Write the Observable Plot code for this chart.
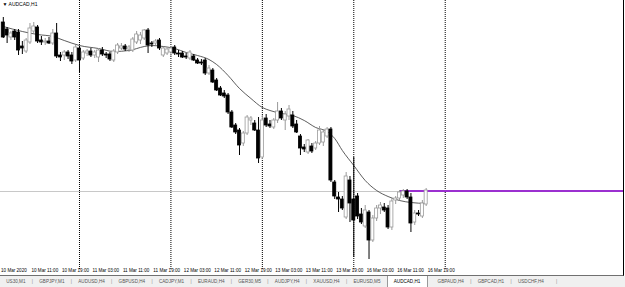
<!DOCTYPE html>
<html><head><meta charset="utf-8">
<script src="https://cdn.jsdelivr.net/npm/d3@7"></script>
<script src="https://cdn.jsdelivr.net/npm/@observablehq/plot@0.6"></script>
<style>
html,body{margin:0;padding:0;background:#fff;}
#wrap{width:625px;height:287px;overflow:hidden;position:relative;font-family:"Liberation Sans",Arial,sans-serif;}
#chart{position:absolute;left:0;top:0;width:623px;height:275px;border-right:1px solid #000;border-bottom:1px solid #707070;overflow:hidden;}
#tabs{position:absolute;left:0;top:276px;width:625px;height:11px;background:#f0f0f0;font-size:4.6px;color:#555;display:flex;align-items:center;white-space:nowrap;box-sizing:border-box;padding-left:0px;}
.tab{padding:0 6.3px;}
.sep{color:#888;}
.tab.active{background:#fff;color:#000;height:11px;line-height:11px;border-left:1px solid #999;border-right:1px solid #999;box-sizing:border-box;padding:0 7px 0 6px;margin-right:3px;}
</style></head>
<body><div id="wrap"><div id="chart"></div><div id="tabs"></div></div>
<script>
// ---- data (AUDCAD, H1), bar index 0 = 10 Mar 04:00 ----
const title = "▼ AUDCAD,H1";
const opens  = [0.8956,0.8942,0.8926,0.8938,0.8936,0.8908,0.8898,0.8916,0.8938,0.8946,0.8920,0.8916,0.8918,0.8914,0.8934,0.8890,0.8890,0.8896,0.8890,0.8880,
 0.8904,0.8884,0.8894,0.8898,0.8890,0.8886,0.8900,0.8892,0.8892,0.8880,0.8896,0.8904,0.8908,0.8902,0.8900,0.8916,0.8920,0.8924,0.8940,0.8914,0.8914,0.8920,0.8890,0.8894,
 0.8896,0.8906,0.8894,0.8894,0.8888,0.8884,0.8888,0.8880,0.8876,0.8880,0.8854,0.8860,0.8840,0.8824,0.8814,0.8810,0.8776,0.8750,0.8740,0.8714,0.8734,0.8760,0.8754,0.8740,
 0.8686,0.8764,0.8752,0.8746,0.8760,0.8778,0.8760,0.8768,0.8770,0.8752,0.8728,0.8706,0.8696,0.8708,0.8704,0.8714,0.8716,0.8728,0.8742,0.8636,0.8606,0.8602,0.8566,0.8640,
 0.8602,0.8608,0.8572,0.8548,0.8576,0.8520,0.8564,0.8584,0.8586,0.8584,0.8546,0.8600,0.8604,0.8610,0.8618,0.8606,0.8556,0.8574,0.8568,0.8592];
const highs  = [0.8966,0.8946,0.8938,0.8942,0.8942,0.8918,0.8924,0.8954,0.8956,0.8950,0.8928,0.8924,0.8926,0.8942,0.8954,0.8896,0.8900,0.8900,0.8896,0.8910,
 0.8908,0.8900,0.8902,0.8904,0.8900,0.8904,0.8906,0.8896,0.8896,0.8902,0.8914,0.8914,0.8912,0.8910,0.8926,0.8938,0.8936,0.8942,0.8944,0.8918,0.8922,0.8924,0.8906,0.8906,
 0.8908,0.8910,0.8900,0.8898,0.8894,0.8900,0.8892,0.8884,0.8882,0.8884,0.8870,0.8864,0.8844,0.8828,0.8820,0.8814,0.8780,0.8754,0.8744,0.8738,0.8770,0.8768,0.8760,0.8766,
 0.8770,0.8772,0.8760,0.8764,0.8796,0.8784,0.8778,0.8790,0.8778,0.8760,0.8732,0.8712,0.8722,0.8714,0.8718,0.8748,0.8742,0.8746,0.8746,0.8640,0.8616,0.8608,0.8656,0.8648,
 0.8686,0.8614,0.8584,0.8590,0.8580,0.8570,0.8590,0.8596,0.8594,0.8590,0.8604,0.8608,0.8620,0.8622,0.8622,0.8614,0.8580,0.8580,0.8600,0.8624];
const lows   = [0.8924,0.8914,0.8920,0.8920,0.8890,0.8892,0.8894,0.8912,0.8934,0.8914,0.8910,0.8910,0.8912,0.8910,0.8884,0.8878,0.8880,0.8882,0.8872,0.8876,
 0.8856,0.8880,0.8888,0.8886,0.8884,0.8876,0.8888,0.8884,0.8878,0.8876,0.8892,0.8900,0.8898,0.8896,0.8896,0.8912,0.8912,0.8920,0.8894,0.8906,0.8910,0.8900,0.8886,0.8890,
 0.8888,0.8890,0.8886,0.8884,0.8882,0.8880,0.8878,0.8872,0.8870,0.8850,0.8850,0.8834,0.8818,0.8808,0.8804,0.8772,0.8744,0.8732,0.8690,0.8708,0.8730,0.8750,0.8738,0.8674,
 0.8682,0.8746,0.8744,0.8742,0.8754,0.8760,0.8740,0.8760,0.8744,0.8734,0.8690,0.8696,0.8692,0.8694,0.8700,0.8710,0.8708,0.8724,0.8636,0.8602,0.8576,0.8580,0.8562,0.8556,
 0.8486,0.8562,0.8552,0.8544,0.8482,0.8516,0.8558,0.8572,0.8576,0.8542,0.8540,0.8592,0.8600,0.8604,0.8602,0.8536,0.8550,0.8568,0.8564,0.8588];
const closes = [0.8926,0.8930,0.8934,0.8926,0.8900,0.8904,0.8920,0.8944,0.8948,0.8918,0.8916,0.8918,0.8914,0.8934,0.8888,0.8886,0.8896,0.8888,0.8878,0.8906,
 0.8880,0.8896,0.8898,0.8890,0.8896,0.8900,0.8892,0.8890,0.8882,0.8898,0.8910,0.8908,0.8902,0.8906,0.8922,0.8932,0.8930,0.8940,0.8910,0.8912,0.8918,0.8904,0.8904,0.8902,
 0.8904,0.8894,0.8892,0.8886,0.8886,0.8896,0.8880,0.8874,0.8874,0.8854,0.8864,0.8836,0.8820,0.8810,0.8808,0.8776,0.8746,0.8736,0.8710,0.8734,0.8766,0.8764,0.8740,0.8684,
 0.8760,0.8750,0.8748,0.8760,0.8778,0.8764,0.8772,0.8782,0.8748,0.8736,0.8704,0.8702,0.8720,0.8698,0.8714,0.8740,0.8736,0.8742,0.8640,0.8608,0.8602,0.8584,0.8648,0.8594,
 0.8560,0.8568,0.8556,0.8580,0.8520,0.8564,0.8584,0.8590,0.8580,0.8546,0.8598,0.8604,0.8616,0.8618,0.8606,0.8554,0.8574,0.8572,0.8594,0.8620];
// moving average read at selected bars
const maBars   = [0,5,9,13,16,20,25,29,33,37,39,42,45,48,51,54,56,59,62,65,68,70,73,76,79,82,85,87,89,92,95,98,101,104,107,111];
const maValues = [0.8948,0.8938,0.8932,0.8928,0.8920,0.8910,0.8904,0.8898,0.8900,0.8908,0.8910,0.8908,0.8904,0.8896,0.8890,0.8882,0.8872,0.8850,0.8824,0.8804,
 0.8786,0.8780,0.8774,0.8770,0.8760,0.8746,0.8738,0.8724,0.8700,0.8670,0.8640,0.8620,0.8608,0.8600,0.8596,0.8594];
// day separators (bar index of 00:00)
const separators = [20,44,68,92,116];
const bidPrice = 0.8618;
const hLineLevel = 0.8619, hLineFrom = 104;
const tickBars   = [-1,7,15,23,31,39,47,55,63,71,79,87,95,103,111];
const tickLabels = ["10 Mar 2020","10 Mar 11:00","10 Mar 19:00","11 Mar 03:00","11 Mar 11:00","11 Mar 19:00","12 Mar 03:00","12 Mar 11:00","12 Mar 19:00","13 Mar 03:00","13 Mar 11:00","13 Mar 19:00","16 Mar 03:00","16 Mar 11:00","16 Mar 19:00"];
const tabs = ["US30,M1","GBPJPY,M1","AUDUSD,H4","GBPUSD,H4","CADJPY,M1","EURAUD,H4","GER30,M5","AUDJPY,H4","XAUUSD,H4","EURUSD,M5","AUDCAD,H1","GBPAUD,H4","GBPCAD,H1","USDCHF,H4"];
const activeTab = "AUDCAD,H1";

// ---- build ----
const bars = opens.map((o, i) => ({i, o, h: highs[i], l: lows[i], c: closes[i]}));
const isUp = d => d.c >= d.o;
const ma = maBars.map((b, k) => ({i: b, v: maValues[k]}));
const xDomain = [-0.735, 162.8];
const yDomain = [0.846, 0.9];
const ticks = tickBars.map((b, k) => ({b, label: tickLabels[k]}));

const chart = Plot.plot({
  width: 623, height: 275,
  marginTop: 0, marginLeft: 0, marginRight: 0, marginBottom: 5,
  x: {domain: xDomain, axis: null},
  y: {domain: yDomain, axis: null},
  style: {fontFamily: "Liberation Sans, Arial, sans-serif", fontSize: "4.6px", background: "transparent", color: "#000", overflow: "visible"},
  marks: [
    Plot.ruleX(separators, {stroke: "#000", strokeWidth: 1, strokeDasharray: "1,1"}),
    Plot.ruleY([bidPrice], {stroke: "#c8c8c8", strokeWidth: 1}),
    Plot.ruleY([hLineLevel], {x1: hLineFrom, x2: xDomain[1], stroke: "#9b30d0", strokeWidth: 2}),
    Plot.line(ma, {x: "i", y: "v", stroke: "#333", strokeWidth: 0.8, curve: "monotone-x"}),
    Plot.ruleX(bars, {x: "i", y1: "l", y2: "h", stroke: d => isUp(d) ? "#9a9a9a" : "#000", strokeWidth: 1}),
    Plot.rectY(bars, {x1: d => d.i - 0.4, x2: d => d.i + 0.4, y1: "o", y2: "c",
      fill: d => isUp(d) ? "#fff" : "#000", stroke: d => isUp(d) ? "#9a9a9a" : "#000", strokeWidth: 0.8}),
    Plot.text(ticks, {x: "b", text: "label", frameAnchor: "bottom", textAnchor: "start", lineAnchor: "middle", dx: 1.5, dy: 0, fontSize: 4.6, fill: "#000"}),
    Plot.text([title], {frameAnchor: "top-left", dx: 2, dy: 1.5, fontSize: 5, textAnchor: "start", lineAnchor: "top"})
  ]
});
document.getElementById("chart").appendChild(chart);

const tabsEl = document.getElementById("tabs");
tabs.forEach((t, k) => {
  const s = document.createElement("span");
  s.className = "tab" + (t === activeTab ? " active" : "");
  s.textContent = t;
  tabsEl.appendChild(s);
  if (k < tabs.length - 1 && t !== activeTab && tabs[k + 1] !== activeTab) {
    const sep = document.createElement("span");
    sep.className = "sep"; sep.textContent = "|";
    tabsEl.appendChild(sep);
  }
});
const last = document.createElement("span");
last.className = "sep"; last.textContent = "|"; last.style.marginLeft = "6px";
tabsEl.appendChild(last);
</script></body></html>
